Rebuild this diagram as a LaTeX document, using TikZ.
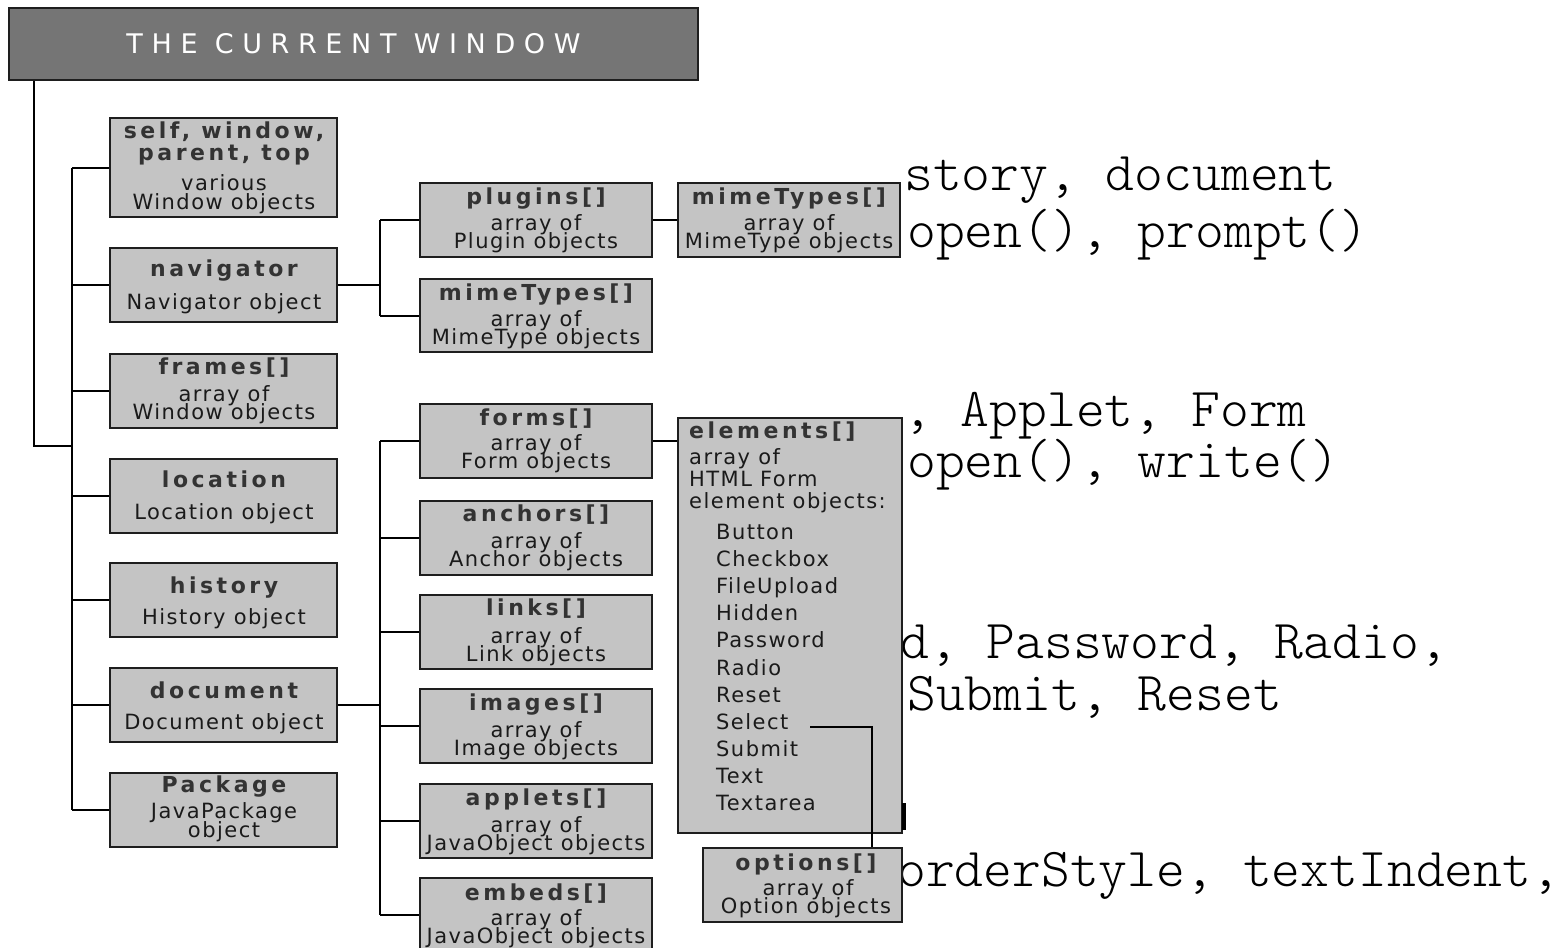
\documentclass[tikz,border=0pt]{standalone}
\usepackage{fontspec}
\setmainfont{DejaVu Sans}
\newfontfamily\headfont{DejaVu Sans}[LetterSpace=32]
\newfontfamily\boldlabel{DejaVu Sans}[LetterSpace=16]
\newfontfamily\plainlabel{DejaVu Sans}[LetterSpace=7]
\newfontfamily\codefont{Latin Modern Mono Light}
% keep multi-line labels at their exact line pitch
\lineskiplimit=-50pt
\normallineskiplimit=-50pt

\definecolor{boxfill}{HTML}{C4C4C4}
\definecolor{boxline}{HTML}{1E1E1E}
\definecolor{titlegray}{HTML}{333333}
\definecolor{textdark}{HTML}{1A1A1A}
\definecolor{headfill}{HTML}{757575}

\tikzset{
  objbox/.style={draw=boxline, fill=boxfill, line width=2pt, inner sep=0pt},
  headbox/.style={draw=boxline, fill=headfill, line width=2pt, inner sep=0pt,
    text=white, font=\headfont\fontsize{27}{32}\selectfont},
  tb/.style={anchor=mid, text=titlegray, inner sep=1pt,
    font=\boldlabel\bfseries\fontsize{22}{26}\selectfont},
  tr/.style={anchor=mid, text=textdark, inner sep=1pt,
    font=\plainlabel\fontsize{21}{25}\selectfont},
  % two centred lines of plain text, placed by their top edge
  trpair/.style={anchor=north, text=textdark, inner sep=1pt, align=center,
    font=\plainlabel\fontsize{21}{#1}\selectfont},
  trpair/.default=18.5,
  tbl/.style={tb, anchor=mid west},
  trl/.style={tr, anchor=mid west},
  code/.style={anchor=north west, inner sep=0pt, text=black, align=left,
    font=\codefont\fontsize{54.9}{#1}\selectfont},
  code/.default=57,
  wire/.style={draw=black, line width=2pt},
}

% box from its corners: name, x1, y1, x2, y2
\newcommand\objrect[5]{%
  \node[objbox, minimum width={(#4)-(#2)}, minimum height={(#5)-(#3)}]
    (#1) at ({((#2)+(#4))/2},{((#3)+(#5))/2}) {};}

\begin{document}
\begin{tikzpicture}[x=1pt,y=-1pt]
\useasboundingbox (0,0) rectangle (1567,948);
\clip (0,0) rectangle (1567,948);

% code fragments in the background
\node[code=57] (c1) at (904,156.5) {story, document\\\hspace*{3pt}open(), prompt()};
\node[code=51] (c3) at (903,392) {, Applet, Form\\\hspace*{4pt}open(), write()};
\node[code=52] (c5) at (900,625) {d, Password, Radio,\\\hspace*{7pt}Submit, Reset};
\node[code] (c7) at (897,852.5) {orderStyle, textIndent,};

% header
\node[headbox, minimum width=689, minimum height=72] (hdr) at (353.5,44)
  {THE CURRENT WINDOW};

% window properties
\objrect{self}{110}{118}{337}{217}
\objrect{nav}{110}{248}{337}{322}
\objrect{frames}{110}{354}{337}{428}
\objrect{loc}{110}{459}{337}{533}
\objrect{hist}{110}{563}{337}{637}
\objrect{doc}{110}{668}{337}{742}
\objrect{pkg}{110}{773}{337}{847}

% navigator properties
\objrect{plug}{420}{183}{652}{257}
\objrect{mimeA}{420}{279}{652}{352}
\objrect{mimeB}{678}{183}{900}{257}

% document properties
\objrect{forms}{420}{404}{652}{478}
\objrect{anch}{420}{501}{652}{575}
\objrect{links}{420}{595}{652}{669}
\objrect{imgs}{420}{689}{652}{763}
\objrect{appl}{420}{784}{652}{858}
\objrect{emb}{420}{878}{652}{952}
\objrect{elem}{678}{418}{902}{833}
\objrect{opts}{703}{848}{902}{922}

% connectors
\coordinate (t0) at (34,446);
\coordinate (bus1) at (72,446);
\coordinate (bus2) at (380,285);
\coordinate (bus3) at (380,705);
\draw[wire] (t0 |- hdr.south) -- (t0) -- (bus1);
\draw[wire] (bus1 |- self.west) -- (bus1 |- pkg.west);
\foreach \b in {self,nav,frames,loc,hist,doc,pkg}
  \draw[wire] (bus1 |- \b.west) -- (\b.west);
\draw[wire] (nav.east) -- (bus2);
\draw[wire] (bus2 |- plug.west) -- (bus2 |- mimeA.west);
\foreach \b in {plug,mimeA}
  \draw[wire] (bus2 |- \b.west) -- (\b.west);
\draw[wire] (plug.east) -- (mimeB.west);
\draw[wire] (doc.east) -- (bus3);
\draw[wire] (bus3 |- forms.west) -- (bus3 |- emb.west);
\foreach \b in {forms,anch,links,imgs,appl,emb}
  \draw[wire] (bus3 |- \b.west) -- (\b.west);
\draw[wire] (forms.east) -- (forms.east -| elem.west);

% stub at the lower right of the elements box
\draw[line width=4pt, black] (904,803) -- (904,830);

% labels: window properties
\node[tb] (selfA) at (224,136) {self, window,};
\node[tb] (selfB) at (224,158) {parent, top};
\node[trpair=19] (selfC) at (224,173) {various\\Window objects};
\node[tb] (navA) at (224,274) {navigator};
\node[tr] (navB) at (224,307) {Navigator object};
\node[tb] (frA) at (224,372) {frames[]};
\node[trpair] (frB) at (224,384) {array of\\Window objects};
\node[tb] (locA) at (224,485) {location};
\node[tr] (locB) at (224,517) {Location object};
\node[tb] (hiA) at (224,591) {history};
\node[tr] (hiB) at (224,622) {History object};
\node[tb] (doA) at (224,696) {document};
\node[tr] (doB) at (224,727) {Document object};
\node[tb] (pkA) at (224,790) {Package};
\node[trpair=19] (pkB) at (224,801) {JavaPackage\\object};

% labels: navigator properties
\node[tb] (plA) at (536,202) {plugins[]};
\node[trpair] (plB) at (536,213) {array of\\Plugin objects};
\node[tb] (maA) at (536,298) {mimeTypes[]};
\node[trpair] (maB) at (536,309) {array of\\MimeType objects};
\node[tb] (mbA) at (789,202) {mimeTypes[]};
\node[trpair] (mbB) at (789,213) {array of\\MimeType objects};

% labels: document properties
\node[tb] (foA) at (536,423) {forms[]};
\node[trpair] (foB) at (536,433) {array of\\Form objects};
\node[tb] (anA) at (536,519) {anchors[]};
\node[trpair] (anB) at (536,531) {array of\\Anchor objects};
\node[tb] (liA) at (536,613) {links[]};
\node[trpair] (liB) at (536,626) {array of\\Link objects};
\node[tb] (imA) at (536,708) {images[]};
\node[trpair] (imB) at (536,720) {array of\\Image objects};
\node[tb] (apA) at (536,803) {applets[]};
\node[trpair=18] (apB) at (536,815) {array of\\JavaObject objects};
\node[tb] (emA) at (536,898) {embeds[]};
\node[trpair] (emB) at (536,908) {array of\\JavaObject objects};

% labels: form elements
\node[tbl] (elA) at (688,436) {elements[]};
\node[trl] (elB) at (688,462) {array of};
\node[trl] (elC) at (688,484) {HTML Form};
\node[trl] (elD) at (688,506) {element objects:};
\node[trl] (e1) at (715,537) {Button};
\node[trl] (e2) at (715,564) {Checkbox};
\node[trl] (e3) at (715,591) {FileUpload};
\node[trl] (e4) at (715,618) {Hidden};
\node[trl] (e5) at (715,645) {Password};
\node[trl] (e6) at (715,673) {Radio};
\node[trl] (e7) at (715,700) {Reset};
\node[trl] (sel) at (715,727) {Select};
\node[trl] (e9) at (715,754) {Submit};
\node[trl] (e10) at (715,781) {Text};
\node[trl] (e11) at (715,808) {Textarea};

\node[tb] (opA) at (806,868) {options[]};
\node[trpair] (opB) at (806,878) {\hspace*{4pt}array of\\Option objects};

% select -> options
\coordinate (selbend) at (872,727);
\draw[wire] (sel.mid east -| 810,0) -- (selbend) -- (selbend |- opts.north);
\end{tikzpicture}
\end{document}
